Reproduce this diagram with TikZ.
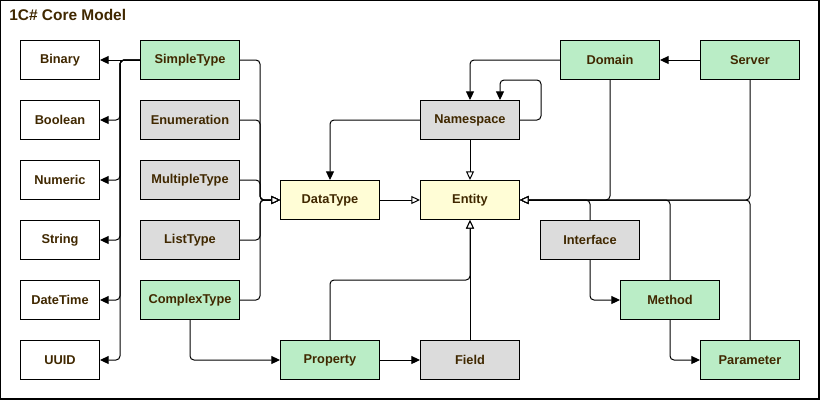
\documentclass[tikz,border=0pt]{standalone}
\usepackage{fontspec}
\setmainfont{Liberation Sans}
\usetikzlibrary{arrows.meta,calc}
\definecolor{txt}{HTML}{402800}
\definecolor{gfill}{HTML}{BAEDC6}
\definecolor{grfill}{HTML}{DCDCDC}
\definecolor{yfill}{HTML}{FFFDD6}
\tikzset{
  box/.style={draw=black, line width=0.75pt, minimum width=74.25pt, minimum height=29.25pt, inner sep=0pt,
    font=\fontsize{9.6pt}{11pt}\selectfont\bfseries, text=txt},
  prim/.style={box, fill=white, minimum width=59.25pt},
  greenbox/.style={box, fill=gfill},
  graybox/.style={box, fill=grfill},
  yellowbox/.style={box, fill=yfill},
  conn/.style={draw=black, line width=0.75pt, rounded corners=3pt},
  filled/.style={-{Triangle[length=6.5pt,width=6pt]}},
  gen/.style={-{Triangle[open,length=6.5pt,width=6pt,fill=white]}},
}
\begin{document}
\begin{tikzpicture}[x=0.75pt,y=-0.75pt]
\useasboundingbox (0,0) rectangle (821,401);
\fill[white] (0,0) rectangle (821,401);
\draw[line width=1.1pt] (0.6,0.6) rectangle (819,399);
\node[anchor=base west, font=\fontsize{11.6pt}{13pt}\selectfont\bfseries, text=txt, inner sep=0pt] (title) at (9,20) {1C\# Core Model};
% primitive column
\node[prim] (binary) at (60,60) {Binary};
\node[prim] (boolean) at (60,120) {Boolean};
\node[prim] (numeric) at (60,180) {Numeric};
\node[prim] (string) at (60,240) {String};
\node[prim] (datetime) at (60,300) {DateTime};
\node[prim] (uuid) at (60,360) {UUID};
% type column
\node[greenbox] (simple) at (190,60) {SimpleType};
\node[graybox] (enum) at (190,120) {Enumeration};
\node[graybox] (multiple) at (190,180) {MultipleType};
\node[graybox] (list) at (190,240) {ListType};
\node[greenbox] (complex) at (190,300) {ComplexType};
% core
\node[yellowbox] (datatype) at (330,200) {DataType};
\node[yellowbox] (entity) at (470,200) {Entity};
\node[graybox] (namespace) at (470,120) {Namespace};
\node[greenbox] (domain) at (610,60) {Domain};
\node[greenbox] (server) at (750,60) {Server};
\node[graybox] (interface) at (590,240) {Interface};
\node[greenbox] (method) at (670,300) {Method};
\node[greenbox] (parameter) at (750,360) {Parameter};
\node[greenbox] (property) at (330,360) {Property};
\node[graybox] (field) at (470,360) {Field};
% helper coordinates
\coordinate (busL) at (120,0);
\coordinate (busR) at (260,0);
\coordinate (nsloop) at (500,80);
\begin{scope}[shift={(0.5,0.5)}]
% SimpleType -> primitives
\draw[conn,filled] (simple.west) -- (binary.east);
\foreach \p in {boolean,numeric,string,datetime,uuid}{
  \draw[conn,filled] (simple.west) -- (simple.west -| busL) |- (\p.east);
}
% types -> DataType
\foreach \t in {simple,enum,multiple,list,complex}{
  \draw[conn,gen] (\t.east) -- (\t.east -| busR) |- (datatype.west);
}
% Namespace
\draw[conn,filled] (namespace.west) -| (datatype.north);
\draw[conn,gen] (namespace.south) -- (entity.north);
\draw[conn,filled] (namespace.east) -- ++(21,0) |- (nsloop) -- (nsloop |- namespace.north);
\draw[conn,filled] (domain.west) -| (namespace.north);
\draw[conn,filled] (server.west) -- (domain.east);
\draw[conn,gen] (datatype.east) -- (entity.west);
% -> Entity from right
\draw[conn,gen] (domain.south) |- (entity.east);
\draw[conn,gen] (server.south) |- (entity.east);
\draw[conn,gen] (interface.north) |- (entity.east);
\draw[conn,gen] (method.north) |- (entity.east);
\draw[conn,gen] (parameter.north) |- (entity.east);
% members
\draw[conn,filled] (interface.south) |- (method.west);
\draw[conn,filled] (method.south) |- (parameter.west);
\draw[conn,filled] (complex.south) |- (property.west);
\draw[conn,filled] (property.east) -- (field.west);
\draw[conn,gen] (property.north) -- ++(0,-60) -| (entity.south);
\draw[conn,gen] (field.north) -- (entity.south);
\end{scope}
\end{tikzpicture}
\end{document}
